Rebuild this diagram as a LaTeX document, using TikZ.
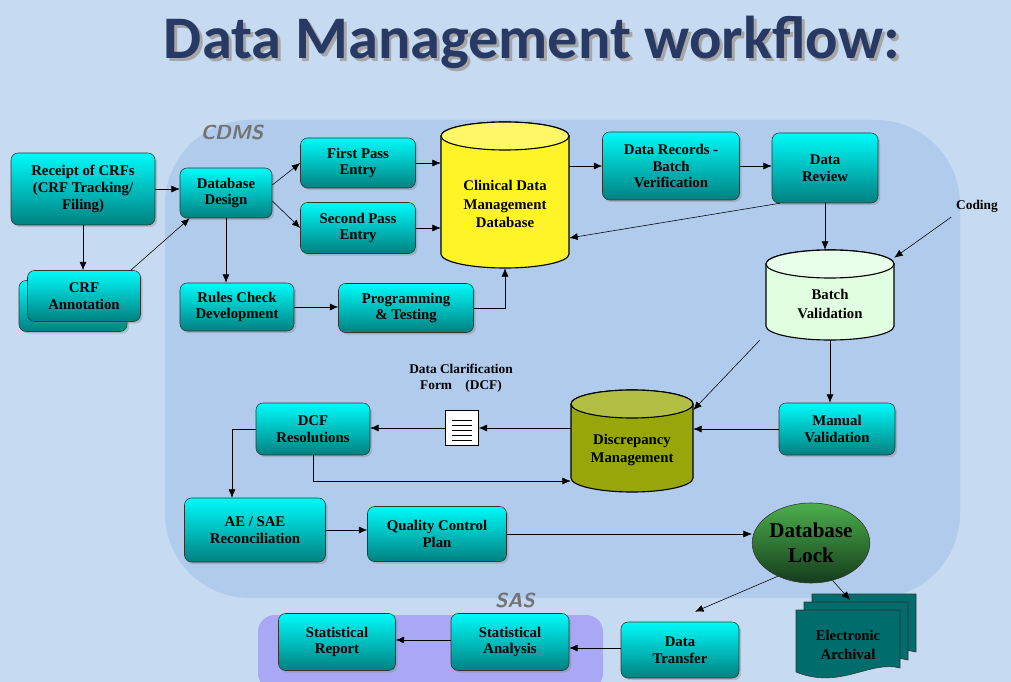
\documentclass[tikz,border=0pt]{standalone}
\usepackage{fontspec}
\setmainfont{Liberation Serif}
\newfontfamily\titlefont{Carlito}
\usetikzlibrary{arrows.meta,calc,shapes.geometric,shadows}
\definecolor{bgblue}{RGB}{198,219,241}
\definecolor{cdmsblue}{RGB}{176,203,236}
\definecolor{sasblue}{RGB}{168,168,244}
\definecolor{titleblue}{RGB}{40,58,100}
\definecolor{tealtop}{RGB}{0,250,250}
\definecolor{tealbot}{RGB}{0,128,128}
\definecolor{lockgreen}{RGB}{40,120,55}
\tikzset{
  box/.style={draw=black!80,rounded corners=5pt,top color=tealtop,bottom color=tealbot,
    align=center,font=\fontsize{10.5}{12}\selectfont\bfseries,inner sep=1pt,
    drop shadow={opacity=0.35,shadow xshift=1.5pt,shadow yshift=-1.5pt}},
  arr/.style={-{Latex[length=6pt,width=5pt]},black},
  cyltext/.style={align=center,font=\fontsize{10.5}{13}\selectfont\bfseries},
  lbl/.style={align=center,font=\fontsize{9.5}{11}\selectfont\bfseries},
}
% box: name, cx, cy, w, h, text
\newcommand{\bx}[6]{\node[box,minimum width=#4*0.025cm,minimum height=#5*0.025cm] (#1) at (#2,#3) {#6};}
% cylinder: name, cx, ytop, w, h, colour, text
\newcommand{\cyl}[7]{%
  \pgfmathsetmacro\cylL{#2-#4/2}\pgfmathsetmacro\cylR{#2+#4/2}\pgfmathsetmacro\cylB{#3+#5}%
  \draw[thick,fill=#6] (\cylL,#3) -- (\cylL,\cylB) arc[start angle=180,end angle=0,x radius=#4/2,y radius=14]
    -- (\cylR,#3) arc[start angle=0,end angle=-180,x radius=#4/2,y radius=14] -- cycle;
  \draw[thick,fill=#6!70!white] (#2,#3) ellipse[x radius=#4/2,y radius=14];
  \node[minimum width=#4*0.025cm,minimum height=#5*0.025cm+0.7cm,inner sep=0pt] (#1) at (#2,#3+#5/2) {};
  \node[cyltext] at (#2,#3+#5/2+9) {#7};}
\begin{document}
\begin{tikzpicture}[x=0.025cm,y=-0.025cm]
  \fill[bgblue] (0,0) rectangle (1011,682);
  \useasboundingbox (0,0) rectangle (1011,682);
  % regions
  \fill[cdmsblue,rounded corners=60] (165,120) rectangle (960,598);
  \node[font=\sffamily\bfseries\itshape\Large,text=black!55] at (232,132) {CDMS};
  \fill[sasblue,rounded corners=12] (258,615) rectangle (603,690);
  \node[font=\sffamily\bfseries\itshape\Large,text=black!55] at (515,600) {SAS};
  % title
  \node[font=\titlefont\bfseries\fontsize{43}{48}\selectfont,text=black!35] at (535,45) {Data Management workflow:};
  \node[font=\titlefont\bfseries\fontsize{43}{48}\selectfont,text=titleblue] at (532,42) {Data Management workflow:};
  % boxes
  \bx{rec}{83}{189}{144}{72}{Receipt of CRFs\\(CRF Tracking/\\Filing)}
  \node[box,minimum width=108*0.025cm,minimum height=51*0.025cm] at (73,306) {};
  \bx{crfa}{84}{296}{113}{51}{CRF\\Annotation}
  \bx{dbd}{226}{193}{92}{50}{Database\\Design}
  \bx{fpe}{358}{163}{115}{50}{First Pass\\Entry}
  \bx{spe}{358}{228}{115}{51}{Second Pass\\Entry}
  \bx{drb}{671}{166}{137}{68}{Data Records -\\Batch\\Verification}
  \bx{drv}{825}{168}{106}{70}{Data\\Review}
  \bx{rcd}{237}{307}{114}{48}{Rules Check\\Development}
  \bx{prg}{406}{308}{135}{49}{Programming\\\& Testing}
  \bx{dcf}{313}{429}{114}{52}{DCF\\Resolutions}
  \bx{mv}{837}{429}{116}{52}{Manual\\Validation}
  \bx{ae}{255}{530}{141}{64}{AE / SAE\\Reconciliation}
  \bx{qc}{437}{534}{139}{55}{Quality Control\\Plan}
  \bx{dt}{680}{650}{118}{56}{Data\\Transfer}
  \bx{sa}{510}{642}{118}{57}{Statistical\\Analysis}
  \bx{sr}{337}{642}{117}{57}{Statistical\\Report}
  % cylinders
  \cyl{cdb}{505}{136}{128}{118}{yellow!85!white}{Clinical Data\\Management\\Database}
  \cyl{bv}{830}{264}{128}{62}{green!12!white}{Batch\\Validation}
  \cyl{dm}{632}{404}{122}{74}{olive!75!green!80!yellow}{Discrepancy\\Management}
  % database lock
  \node[ellipse,draw=black!80,top color=green!55!black!70!white,bottom color=lockgreen!50!black,
    minimum width=114*0.025cm,minimum height=80*0.025cm,inner sep=0pt,align=center,
    font=\fontsize{15}{18}\selectfont\bfseries] (dbl) at (811,543) {Database\\Lock};
  % electronic archival
  \foreach \dx/\dy in {16/-16,8/-8,0/0}{
    \draw[draw=black!80,fill=teal!85!black] (796+\dx,610+\dy) -- (900+\dx,610+\dy) -- (900+\dx,668+\dy)
      .. controls (870+\dx,660+\dy) and (840+\dx,690+\dy) .. (796+\dx,672+\dy) -- cycle;}
  \node[lbl,font=\fontsize{10.5}{13}\selectfont\bfseries] (arch) at (848,645) {Electronic\\Archival};
  \coordinate (archtop) at (850,600);
  % document icon
  \node[draw,fill=white,minimum width=33*0.025cm,minimum height=35*0.025cm,inner sep=0pt] (doc) at (462,428) {};
  \foreach \yy in {420,425,430,435,440}{\draw[thin] (452,\yy) -- (472,\yy);}
  \node[lbl] (dcfl) at (461,378) {Data Clarification\\Form\quad(DCF)};
  \node[lbl] (coding) at (977,206) {Coding};
  % connectors
  \draw[arr] (rec.south) -- (rec.south |- crfa.north);
  \draw[arr] (rec.east) -- (rec.east -| dbd.west);
  \draw[arr] ($(crfa.north east)+(-10,0)$) -- ($(dbd.south west)+(10,0)$);
  \draw[arr] ($(dbd.east)+(0,-8)$) -- (fpe.west);
  \draw[arr] ($(dbd.east)+(0,8)$) -- (spe.west);
  \draw[arr] (dbd.south) -- (dbd.south |- rcd.north);
  \draw[arr] (fpe.east) -- (fpe.east -| cdb.west);
  \draw[arr] (spe.east) -- (spe.east -| cdb.west);
  \draw[arr] (rcd.east) -- (rcd.east -| prg.west);
  \draw[arr] (prg.east) -| (cdb.south);
  \draw[arr] (cdb.east |- drb.west) -- (drb.west);
  \draw[arr] (drb.east) -- (drb.east -| drv.west);
  \draw[arr] ($(drv.south west)+(8,0)$) -- ($(cdb.east)+(0,43)$);
  \draw[arr] (drv.south) -- (drv.south |- bv.north);
  \draw[arr] (coding.south west) -- ($(bv.north east)+(0,8)$);
  \draw[arr] (bv.south) -- (bv.south |- mv.north);
  \draw[arr] ($(bv.south west)+(-6,0)$) -- ($(dm.east)+(0,-31)$);
  \draw[arr] (mv.west) -- (mv.west -| dm.east);
  \draw[arr] (dm.west |- doc.east) -- (doc.east);
  \draw[arr] (doc.west) -- (doc.west -| dcf.east);
  \draw[arr] (dcf.south) |- ($(dm.west)+(0,40)$);
  \draw[arr] (dcf.west) -| ($(ae.north)+(-23,0)$);
  \draw[arr] (ae.east) -- (ae.east -| qc.west);
  \draw[arr] (qc.east) -- (qc.east -| dbl.west);
  \draw[arr] (dbl.225) -- ($(dt.north)+(15,-10)$);
  \draw[arr] (dbl.-60) -- (archtop);
  \draw[arr] ($(dt.west)+(0,-2)$) -- ($(dt.west -| sa.east)+(0,-2)$);
  \draw[arr] ($(sa.west)+(0,-2)$) -- ($(sr.east)+(0,-2)$);
\end{tikzpicture}
\end{document}
